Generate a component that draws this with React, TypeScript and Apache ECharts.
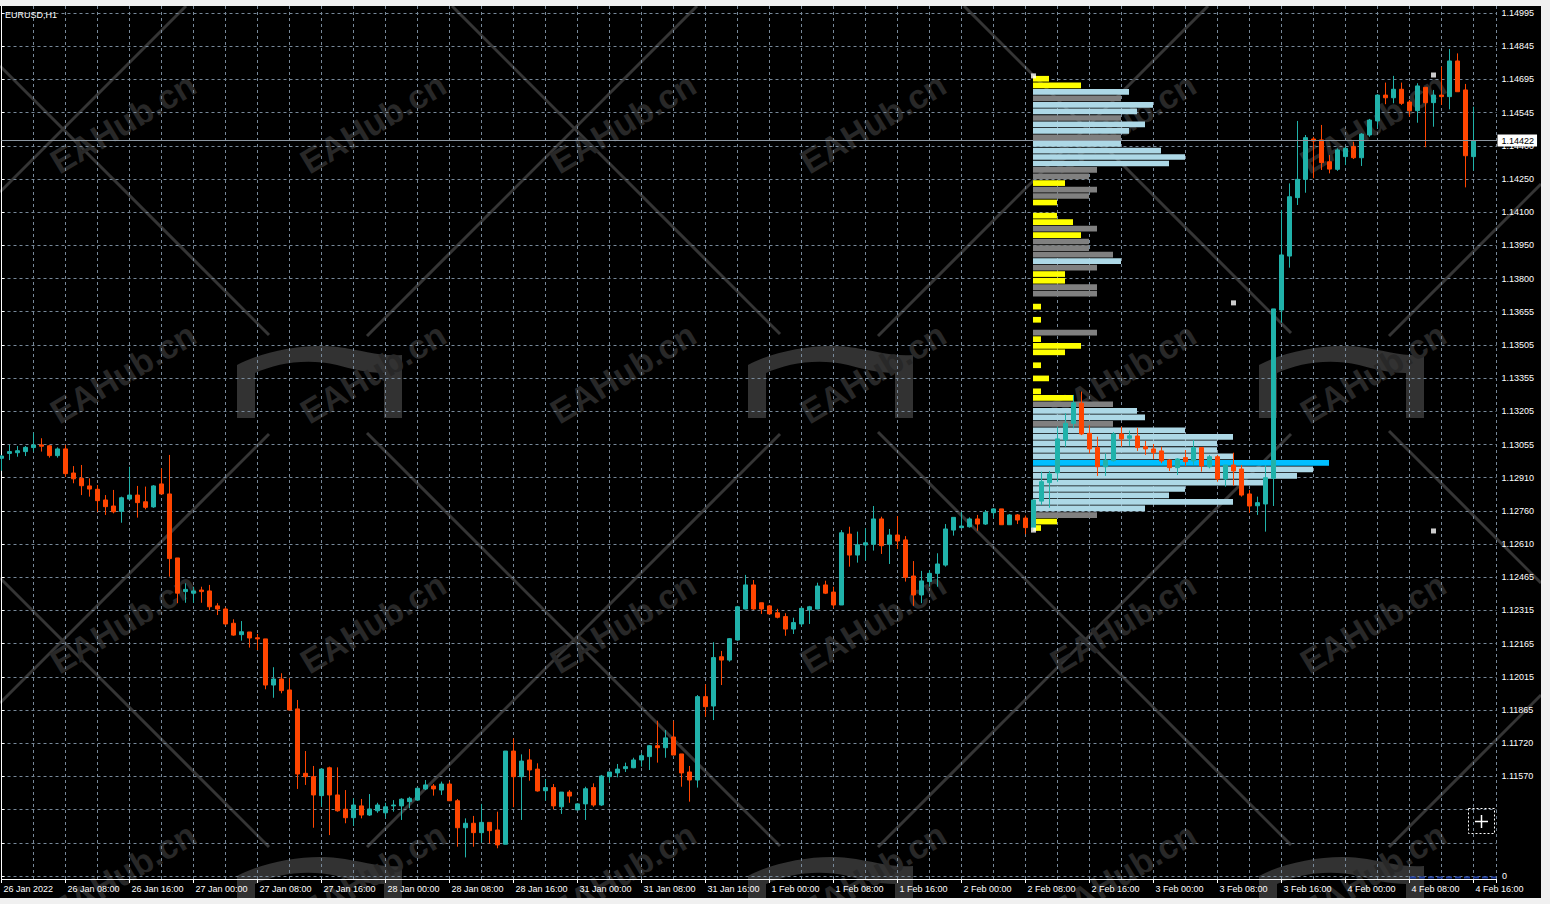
import React, { useEffect, useRef } from 'react';
import * as echarts from 'echarts';

const FONT = '"Liberation Sans", Arial, sans-serif';

const symbolLabel = 'EURUSD,H1';

const timeLabels = [
  '26 Jan 2022', '26 Jan 08:00', '26 Jan 16:00', '27 Jan 00:00', '27 Jan 08:00', '27 Jan 16:00',
  '28 Jan 00:00', '28 Jan 08:00', '28 Jan 16:00', '31 Jan 00:00', '31 Jan 08:00', '31 Jan 16:00',
  '1 Feb 00:00', '1 Feb 08:00', '1 Feb 16:00', '2 Feb 00:00', '2 Feb 08:00', '2 Feb 16:00',
  '3 Feb 00:00', '3 Feb 08:00', '3 Feb 16:00', '4 Feb 00:00', '4 Feb 08:00', '4 Feb 16:00',
];

const priceLabels = [
  '1.14995', '1.14845', '1.14695', '1.14545', '1.14400', '1.14250', '1.14100', '1.13950',
  '1.13800', '1.13655', '1.13505', '1.13355', '1.13205', '1.13055', '1.12910', '1.12760',
  '1.12610', '1.12465', '1.12315', '1.12165', '1.12015', '1.11865', '1.11720', '1.11570',
];

const opens = [
  1.12997, 1.13019, 1.13022, 1.13027, 1.13045, 1.13057, 1.13053, 1.13009, 1.13039, 1.12931,
  1.12907, 1.12873, 1.12858, 1.12810, 1.12783, 1.12759, 1.12814, 1.12832, 1.12802, 1.12779,
  1.12882, 1.12837, 1.12550, 1.12399, 1.12392, 1.12406, 1.12402, 1.12335, 1.12321, 1.12257,
  1.12206, 1.12218, 1.12192, 1.12187, 1.11980, 1.12007, 1.11958, 1.11873, 1.11584, 1.11569,
  1.11484, 1.11609, 1.11487, 1.11423, 1.11385, 1.11438, 1.11397, 1.11416, 1.11407, 1.11438,
  1.11438, 1.11457, 1.11464, 1.11514, 1.11527, 1.11509, 1.11536, 1.11461, 1.11340, 1.11360,
  1.11318, 1.11364, 1.11330, 1.11266, 1.11684, 1.11569, 1.11644, 1.11603, 1.11506, 1.11520,
  1.11434, 1.11500, 1.11420, 1.11447, 1.11520, 1.11442, 1.11569, 1.11586, 1.11605, 1.11609,
  1.11644, 1.11659, 1.11708, 1.11699, 1.11747, 1.11671, 1.11590, 1.11554, 1.11928, 1.11886,
  1.12107, 1.12092, 1.12182, 1.12321, 1.12429, 1.12349, 1.12335, 1.12304, 1.12287, 1.12231,
  1.12254, 1.12317, 1.12321, 1.12429, 1.12397, 1.12339, 1.12657, 1.12563, 1.12608, 1.12611,
  1.12725, 1.12611, 1.12653, 1.12631, 1.12469, 1.12384, 1.12444, 1.12481, 1.12518, 1.12675,
  1.12686, 1.12690, 1.12725, 1.12702, 1.12753, 1.12770, 1.12699, 1.12743, 1.12729, 1.12686,
  1.12805, 1.12888, 1.12932, 1.13079, 1.13154, 1.13244, 1.13109, 1.13045, 1.12959, 1.12986,
  1.13106, 1.13087, 1.13097, 1.13049, 1.13039, 1.13030, 1.12989, 1.12955, 1.13000, 1.12985,
  1.13045, 1.12959, 1.13004, 1.12904, 1.12967, 1.12949, 1.12837, 1.12784, 1.12792, 1.12907,
  1.13662, 1.13904, 1.14166, 1.14248, 1.14429, 1.14425, 1.14327, 1.14293, 1.14350, 1.14395,
  1.14345, 1.14447, 1.14510, 1.14626, 1.14614, 1.14652, 1.14595, 1.14556, 1.14661, 1.14592,
  1.14626, 1.14619, 1.14779, 1.14649, 1.14350,
];

const closes = [
  1.13007, 1.13027, 1.13031, 1.13046, 1.13057, 1.13051, 1.13009, 1.13039, 1.12928, 1.12905,
  1.12874, 1.12859, 1.12807, 1.12780, 1.12757, 1.12820, 1.12832, 1.12798, 1.12777, 1.12873,
  1.12837, 1.12547, 1.12392, 1.12409, 1.12402, 1.12399, 1.12331, 1.12321, 1.12254, 1.12204,
  1.12219, 1.12191, 1.12187, 1.11980, 1.12007, 1.11955, 1.11868, 1.11581, 1.11569, 1.11487,
  1.11603, 1.11487, 1.11416, 1.11385, 1.11442, 1.11397, 1.11424, 1.11442, 1.11434, 1.11442,
  1.11468, 1.11472, 1.11517, 1.11532, 1.11514, 1.11536, 1.11461, 1.11340, 1.11360, 1.11318,
  1.11364, 1.11327, 1.11263, 1.11684, 1.11569, 1.11639, 1.11599, 1.11505, 1.11520, 1.11438,
  1.11500, 1.11482, 1.11447, 1.11515, 1.11442, 1.11572, 1.11590, 1.11603, 1.11614, 1.11644,
  1.11663, 1.11708, 1.11699, 1.11743, 1.11666, 1.11586, 1.11554, 1.11928, 1.11883, 1.12103,
  1.12092, 1.12188, 1.12331, 1.12429, 1.12321, 1.12321, 1.12299, 1.12284, 1.12231, 1.12260,
  1.12324, 1.12331, 1.12424, 1.12392, 1.12339, 1.12663, 1.12563, 1.12609, 1.12618, 1.12725,
  1.12605, 1.12653, 1.12626, 1.12463, 1.12384, 1.12447, 1.12481, 1.12523, 1.12680, 1.12732,
  1.12693, 1.12725, 1.12702, 1.12755, 1.12770, 1.12699, 1.12743, 1.12720, 1.12686, 1.12810,
  1.12892, 1.12927, 1.13084, 1.13154, 1.13246, 1.13106, 1.13039, 1.12959, 1.12989, 1.13106,
  1.13084, 1.13098, 1.13045, 1.13039, 1.13022, 1.12985, 1.12955, 1.12994, 1.12982, 1.13045,
  1.12962, 1.13004, 1.12904, 1.12967, 1.12940, 1.12832, 1.12783, 1.12798, 1.12910, 1.13667,
  1.13909, 1.14170, 1.14248, 1.14435, 1.14420, 1.14323, 1.14294, 1.14380, 1.14387, 1.14345,
  1.14451, 1.14514, 1.14626, 1.14614, 1.14652, 1.14589, 1.14556, 1.14667, 1.14592, 1.14626,
  1.14619, 1.14779, 1.14641, 1.14354, 1.14422,
];

const lows = [
  1.12941, 1.12989, 1.13004, 1.13007, 1.13027, 1.13027, 1.13000, 1.13000, 1.12914, 1.12885,
  1.12832, 1.12825, 1.12757, 1.12743, 1.12750, 1.12708, 1.12810, 1.12731, 1.12768, 1.12775,
  1.12837, 1.12466, 1.12347, 1.12349, 1.12349, 1.12349, 1.12317, 1.12294, 1.12249, 1.12201,
  1.12179, 1.12148, 1.12137, 1.11961, 1.11923, 1.11943, 1.11868, 1.11514, 1.11532, 1.11340,
  1.11434, 1.11307, 1.11412, 1.11360, 1.11348, 1.11382, 1.11393, 1.11407, 1.11382, 1.11412,
  1.11375, 1.11427, 1.11460, 1.11509, 1.11484, 1.11487, 1.11461, 1.11255, 1.11207, 1.11255,
  1.11273, 1.11270, 1.11248, 1.11266, 1.11432, 1.11375, 1.11551, 1.11502, 1.11461, 1.11423,
  1.11402, 1.11452, 1.11420, 1.11375, 1.11434, 1.11438, 1.11542, 1.11566, 1.11590, 1.11607,
  1.11614, 1.11599, 1.11632, 1.11654, 1.11666, 1.11524, 1.11457, 1.11520, 1.11838, 1.11823,
  1.11980, 1.12085, 1.12179, 1.12320, 1.12317, 1.12299, 1.12299, 1.12279, 1.12201, 1.12209,
  1.12242, 1.12254, 1.12320, 1.12388, 1.12324, 1.12339, 1.12511, 1.12529, 1.12538, 1.12583,
  1.12568, 1.12523, 1.12590, 1.12444, 1.12335, 1.12347, 1.12421, 1.12421, 1.12511, 1.12650,
  1.12683, 1.12686, 1.12672, 1.12698, 1.12728, 1.12699, 1.12699, 1.12702, 1.12657, 1.12675,
  1.12788, 1.12775, 1.12892, 1.13049, 1.13132, 1.13101, 1.13019, 1.12918, 1.12918, 1.12982,
  1.13049, 1.13053, 1.13030, 1.13012, 1.12994, 1.12975, 1.12940, 1.12922, 1.12962, 1.12967,
  1.12937, 1.12952, 1.12892, 1.12870, 1.12874, 1.12825, 1.12753, 1.12743, 1.12668, 1.12783,
  1.13605, 1.13852, 1.14133, 1.14188, 1.14253, 1.14290, 1.14275, 1.14286, 1.14312, 1.14339,
  1.14308, 1.14439, 1.14477, 1.14585, 1.14589, 1.14582, 1.14529, 1.14502, 1.14392, 1.14484,
  1.14582, 1.14562, 1.14641, 1.14212, 1.14287,
];

const highs = [
  1.13012, 1.13057, 1.13052, 1.13052, 1.13112, 1.13087, 1.13057, 1.13046, 1.13057, 1.12962,
  1.12967, 1.12907, 1.12877, 1.12832, 1.12855, 1.12825, 1.12959, 1.12873, 1.12870, 1.12877,
  1.12952, 1.13012, 1.12550, 1.12436, 1.12421, 1.12421, 1.12429, 1.12347, 1.12329, 1.12275,
  1.12267, 1.12218, 1.12209, 1.12187, 1.12060, 1.12033, 1.12010, 1.11913, 1.11684, 1.11617,
  1.11607, 1.11614, 1.11611, 1.11509, 1.11472, 1.11469, 1.11491, 1.11452, 1.11452, 1.11464,
  1.11472, 1.11479, 1.11520, 1.11554, 1.11536, 1.11547, 1.11547, 1.11469, 1.11382, 1.11393,
  1.11447, 1.11364, 1.11412, 1.11684, 1.11741, 1.11669, 1.11693, 1.11629, 1.11559, 1.11536,
  1.11500, 1.11509, 1.11450, 1.11524, 1.11539, 1.11577, 1.11590, 1.11626, 1.11632, 1.11654,
  1.11674, 1.11711, 1.11820, 1.11778, 1.11820, 1.11671, 1.11617, 1.11935, 1.11983, 1.12172,
  1.12133, 1.12191, 1.12335, 1.12474, 1.12451, 1.12349, 1.12339, 1.12322, 1.12302, 1.12282,
  1.12331, 1.12335, 1.12439, 1.12448, 1.12421, 1.12675, 1.12690, 1.12668, 1.12683, 1.12783,
  1.12735, 1.12680, 1.12738, 1.12648, 1.12536, 1.12492, 1.12496, 1.12571, 1.12702, 1.12732,
  1.12757, 1.12732, 1.12743, 1.12765, 1.12773, 1.12770, 1.12747, 1.12747, 1.12740, 1.12810,
  1.12937, 1.12940, 1.13139, 1.13199, 1.13281, 1.13296, 1.13146, 1.13094, 1.13019, 1.13114,
  1.13139, 1.13121, 1.13134, 1.13075, 1.13061, 1.13049, 1.12992, 1.12997, 1.13034, 1.13079,
  1.13045, 1.13012, 1.13012, 1.12967, 1.13022, 1.12967, 1.12855, 1.12825, 1.12967, 1.13667,
  1.14111, 1.14230, 1.14510, 1.14447, 1.14439, 1.14492, 1.14357, 1.14387, 1.14395, 1.14417,
  1.14455, 1.14519, 1.14630, 1.14682, 1.14712, 1.14682, 1.14604, 1.14679, 1.14661, 1.14649,
  1.14753, 1.14833, 1.14813, 1.14676, 1.14574,
];

const lastPrice = 1.14422;

// Volume profile (rows from top; counts in bars, start at bar 129)
const profileStartBar = 129;
const profileTops = [
  1.14712, 1.14682, 1.14653, 1.14624, 1.14595, 1.14566, 1.14536, 1.14507, 1.14478, 1.14449,
  1.14420, 1.14390, 1.14361, 1.14332, 1.14303, 1.14274, 1.14244, 1.14215, 1.14186, 1.14157,
  1.14128, 1.14098, 1.14069, 1.14040, 1.14011, 1.13982, 1.13952, 1.13923, 1.13894, 1.13865,
  1.13836, 1.13806, 1.13777, 1.13748, 1.13719, 1.13690, 1.13660, 1.13631, 1.13602, 1.13573,
  1.13544, 1.13514, 1.13485, 1.13456, 1.13427, 1.13398, 1.13368, 1.13339, 1.13310, 1.13281,
  1.13252, 1.13222, 1.13193, 1.13164, 1.13135, 1.13106, 1.13077, 1.13047, 1.13018, 1.12989,
  1.12960, 1.12931, 1.12901, 1.12872, 1.12843, 1.12814, 1.12785, 1.12755, 1.12726, 1.12697,
];
const profileCounts = [
  2, 6, 12, 11, 15, 13, 11, 14, 12, 11,
  11, 16, 19, 17, 8, 7, 4, 8, 7, 3,
  0, 3, 5, 8, 6, 7, 7, 10, 11, 8,
  4, 4, 8, 8, 0, 1, 0, 1, 0, 8,
  1, 6, 4, 0, 1, 0, 2, 0, 1, 5,
  10, 13, 14, 10, 19, 25, 23, 23, 25, 37,
  35, 33, 29, 19, 17, 25, 14, 8, 3, 1,
];
const profileKinds = [
  'Y', 'Y', 'L', 'G', 'L', 'L', 'G', 'L', 'L', 'G',
  'L', 'L', 'L', 'L', 'G', 'G', 'Y', 'G', 'G', 'Y',
  '-', 'Y', 'Y', 'G', 'Y', 'G', 'G', 'G', 'L', 'G',
  'Y', 'Y', 'G', 'G', '-', 'Y', '-', 'Y', '-', 'G',
  'Y', 'Y', 'Y', '-', 'Y', '-', 'Y', '-', 'Y', 'Y',
  'G', 'L', 'L', 'G', 'L', 'L', 'L', 'L', 'L', 'P',
  'L', 'L', 'L', 'L', 'L', 'L', 'L', 'G', 'Y', 'Y',
];
const kindColors: Record<string, string> = { Y: '#ffff00', G: '#808080', L: '#add8e6', P: '#00bfff' };

// small white markers [bar, price]
const markerPoints = [
  [179, 1.14716], [154, 1.13694], [179, 1.12671], [129, 1.14712], [129, 1.12675],
];

const GRID_COLOR = '#778899';
const BULL = '#20b2aa';
const BEAR = '#ff4500';

// watermark logo shape
const LOGO_PATH =
  'M0,75 L0,22 C25,8 70,0 100,4 C125,7 145,14 165,12 L165,75 L147,75 L147,30 C130,30 115,26 100,22 C70,15 40,20 18,30 L18,75 Z';
echarts.graphic.registerShape('wmLogo', echarts.graphic.extendPath(LOGO_PATH, {}) as any);

function buildWatermark(): any[] {
  const els: any[] = [];
  const logoCenters: number[][] = [];
  [318, 829, 1340].forEach((cx) => [384, 895].forEach((cy) => logoCenters.push([cx, cy])));
  const lineStyle = { stroke: '#353535', lineWidth: 3 };
  const seg = (kind: string, c: number, xa: number, xb: number) => {
    const ya = kind === 'A' ? xa + c : c - xa;
    const yb = kind === 'A' ? xb + c : c - xb;
    els.push({ type: 'line', z: -3, silent: true, shape: { x1: xa, y1: ya, x2: xb, y2: yb }, style: lineStyle });
  };
  const addLine = (kind: string, c: number) => {
    let x0: number;
    let x1: number;
    if (kind === 'A') {
      x0 = Math.max(0, 6 - c);
      x1 = Math.min(1541, 898 - c);
    } else {
      x0 = Math.max(0, c - 898);
      x1 = Math.min(1541, c - 6);
    }
    if (x1 <= x0) return;
    const gaps = logoCenters
      .filter(([cx, cy]) => (kind === 'A' ? Math.abs(cy - cx - c) < 3 : Math.abs(cy + cx - c) < 3))
      .map(([cx]) => [cx - 49, cx + 49])
      .sort((a, b) => a[0] - b[0]);
    let start = x0;
    gaps.forEach(([g0, g1]) => {
      if (g0 > start) seg(kind, c, start, Math.min(g0, x1));
      start = Math.max(start, g1);
    });
    if (start < x1) seg(kind, c, start, x1);
  };
  [-958, -446, 66, 578, 1090].forEach((c) => addLine('A', c));
  [192, 703, 1214, 1725, 2236, 2747].forEach((c) => addLine('B', c));
  logoCenters.forEach(([cx, cy]) => {
    els.push({ type: 'wmLogo', z: -2, silent: true, x: cx - 81, y: cy - 41, style: { fill: '#323232' } });
  });
  for (let a = 0; a < 6; a++) {
    for (let b = 0; b < 4; b++) {
      els.push({
        type: 'text', z: -1, silent: true, x: 123 + 250 * a, y: 123 + 250 * b, rotation: (31 * Math.PI) / 180,
        style: { text: 'EAHub.cn', fill: '#282828', font: `bold 34px ${FONT}`, align: 'center', verticalAlign: 'middle' },
      });
    }
  }
  return els;
}

export default function App() {
  const ref = useRef<HTMLDivElement>(null);
  useEffect(() => {
    const chart = echarts.init(ref.current!, null, { renderer: 'svg' });
    const binSize = profileTops[0] - profileTops[1];
    const option: any = {
      animation: false,
      backgroundColor: '#000000',
      textStyle: { fontFamily: FONT },
      grid: [
        { left: 1.5, top: 6, width: 1495, height: 873 },
        { left: 1.5, top: 13, width: 1495, height: 863 },
      ],
      xAxis: [
        {
          gridIndex: 0, type: 'value', min: 0, max: 186.875, interval: 4,
          axisLine: { show: false }, axisTick: { show: false }, axisLabel: { show: false },
          splitLine: { show: true, lineStyle: { color: GRID_COLOR, type: [3, 3], width: 1 } },
        },
        {
          gridIndex: 0, type: 'value', min: 0, max: 186.875, interval: 8, position: 'bottom',
          axisLine: { show: true, lineStyle: { color: '#ffffff', width: 1 } },
          axisTick: { show: true, length: 4, lineStyle: { color: '#ffffff' } },
          axisLabel: {
            show: true, color: '#ffffff', fontSize: 9, fontFamily: FONT,
            align: 'left', verticalAlign: 'top', margin: 5, padding: [0, 0, 0, 2],
            formatter: (v: number) => {
              const m = v / 8;
              return Number.isInteger(m) && timeLabels[m] ? timeLabels[m] : '';
            },
          },
          splitLine: { show: false },
        },
        { gridIndex: 1, type: 'value', min: 0, max: 1, show: false },
      ],
      yAxis: [
        {
          gridIndex: 0, type: 'value', min: 1.111101, max: 1.150255, position: 'right',
          axisLine: { show: true, lineStyle: { color: '#ffffff', width: 1 } },
          axisTick: { show: false }, axisLabel: { show: false }, splitLine: { show: false },
        },
        {
          gridIndex: 1, type: 'value', min: 0, max: 26, interval: 1, position: 'right',
          axisLine: { show: false },
          axisTick: { show: true, length: 3, lineStyle: { color: '#ffffff' } },
          axisLabel: {
            show: true, color: '#ffffff', fontSize: 9, fontFamily: FONT, margin: 5,
            formatter: (v: number) => priceLabels[26 - v] ?? '',
          },
          splitLine: { show: true, lineStyle: { color: GRID_COLOR, type: [3, 3], width: 1 } },
        },
      ],
      series: [
        {
          type: 'custom', xAxisIndex: 0, yAxisIndex: 0, z: 1, clip: true,
          data: profileCounts.map((c, k) => [c, profileTops[k]]),
          renderItem: (params: any, api: any) => {
            const count = api.value(0);
            const top = api.value(1);
            const kind = profileKinds[params.dataIndex];
            if (!count || kind === '-') return null;
            const p0 = api.coord([profileStartBar, top]);
            const p1 = api.coord([profileStartBar + count, top - binSize]);
            return {
              type: 'rect',
              shape: { x: p0[0] - 0.5, y: p0[1], width: p1[0] - p0[0], height: p1[1] - p0[1] - 1 },
              style: { fill: kindColors[kind] },
            };
          },
        },
        {
          type: 'candlestick', xAxisIndex: 0, yAxisIndex: 0, z: 2, barWidth: 4,
          encode: { x: 0, y: [1, 2, 3, 4] },
          data: opens.map((o, i) => [i, o, closes[i], lows[i], highs[i]]),
          itemStyle: { color: BULL, color0: BEAR, borderColor: BULL, borderColor0: BEAR, borderWidth: 1 },
        },
        {
          type: 'scatter', xAxisIndex: 0, yAxisIndex: 0, z: 3,
          symbol: 'rect', symbolSize: 5,
          itemStyle: { color: '#ffffff' },
          data: markerPoints,
          markLine: {
            silent: true, symbol: 'none', animation: false, precision: 5,
            data: [{ yAxis: lastPrice }],
            lineStyle: { color: '#8c96a0', type: 'solid', width: 1 },
            label: {
              show: true, position: 'end', distance: 1,
              formatter: lastPrice.toFixed(5),
              color: '#000000', backgroundColor: '#ffffff', fontSize: 9, fontFamily: FONT,
              padding: [2, 3, 1, 4],
            },
          },
        },
      ],
      graphic: [
        ...buildWatermark(),
        {
          type: 'text', x: 5, y: 15, z: 50,
          style: { text: symbolLabel, fill: '#ffffff', font: `9px ${FONT}`, align: 'left', verticalAlign: 'middle' },
        },
        {
          type: 'text', x: 1502, y: 876, z: 50,
          style: { text: '0', fill: '#ffffff', font: `9px ${FONT}`, align: 'left', verticalAlign: 'middle' },
        },
        {
          type: 'line', z: 40,
          shape: { x1: 1410, y1: 877.5, x2: 1496, y2: 877.5 },
          style: { stroke: '#1e3ca0', lineWidth: 2, lineDash: [6, 3] },
        },
        {
          type: 'rect', z: 50,
          shape: { x: 1468.5, y: 808.5, width: 26, height: 25 },
          style: { fill: 'none', stroke: '#ffffff', lineWidth: 1, lineDash: [2, 2] },
        },
        {
          type: 'line', z: 50,
          shape: { x1: 1475, y1: 821.5, x2: 1488, y2: 821.5 },
          style: { stroke: '#ffffff', lineWidth: 1.5 },
        },
        {
          type: 'line', z: 50,
          shape: { x1: 1481.5, y1: 815, x2: 1481.5, y2: 828 },
          style: { stroke: '#ffffff', lineWidth: 1.5 },
        },
        { type: 'rect', z: 60, shape: { x: 0, y: 0, width: 1550, height: 6 }, style: { fill: '#f0f0f0' } },
        { type: 'rect', z: 60, shape: { x: 0, y: 898, width: 1550, height: 6 }, style: { fill: '#f0f0f0' } },
        { type: 'rect', z: 60, shape: { x: 1541, y: 0, width: 9, height: 904 }, style: { fill: '#f0f0f0' } },
      ],
    };
    chart.setOption(option);
    return () => chart.dispose();
  }, []);
  return <div ref={ref} style={{ position: 'fixed', left: 0, top: 0, width: 1550, height: 904 }} />;
}
